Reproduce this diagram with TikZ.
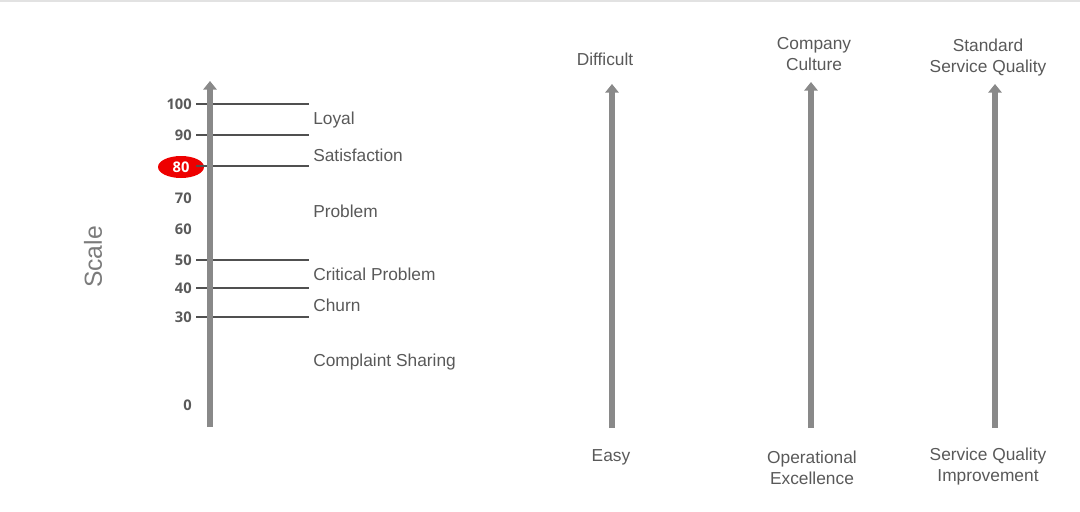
\documentclass[tikz,border=0pt]{standalone}
\usepackage{fontspec}
\setmainfont{Liberation Sans}
\newfontfamily\numfont{Open Sans}
\usetikzlibrary{arrows.meta,shapes.geometric}
\definecolor{axisgray}{HTML}{898989}
\definecolor{tickgray}{HTML}{505050}
\definecolor{txtgray}{HTML}{595959}
\definecolor{numgray}{HTML}{5A5A5A}
\definecolor{redmark}{HTML}{EE0000}
\definecolor{topline}{HTML}{E2E2E2}
\tikzset{
  axisarrow/.style={draw=axisgray, line width=5pt, -{Triangle[width=10pt,length=6.5pt]}},
  tickline/.style={draw=tickgray, line width=1.3pt},
  numlabel/.style={anchor=east, inner sep=0pt, text=numgray, font=\numfont\bfseries\fontsize{11}{12}\selectfont},
  catlabel/.style={anchor=west, inner sep=0pt, text=txtgray, font=\fontsize{13}{15.5}\selectfont},
  endlabel/.style={inner sep=0pt, align=center, text=txtgray, font=\fontsize{13}{15.5}\selectfont},
}
\begin{document}
\begin{tikzpicture}[x=0.75pt,y=-0.75pt]
\useasboundingbox (0,0) rectangle (1080,511);
\draw[topline, line width=1.2pt] (0,1) -- (1080,1);
% red marker
\node[ellipse, fill=redmark, minimum width=34.5pt, minimum height=16.5pt, inner sep=0pt, text=white, font=\numfont\bfseries\fontsize{11}{12}\selectfont] (m80) at (181,167) {80};
% numbers
\node[numlabel] (n100) at (192,104) {100};
\node[numlabel] (n90) at (192,135) {90};
\node[numlabel] (n70) at (192,198) {70};
\node[numlabel] (n60) at (192,229) {60};
\node[numlabel] (n50) at (192,260) {50};
\node[numlabel] (n40) at (192,288) {40};
\node[numlabel] (n30) at (192,317) {30};
\node[numlabel] (n0) at (192,405) {0};
% tick lines
\foreach \y/\n in {104/a,135/b,166/c,260/d,288/e,317/f}{
  \coordinate (tl\n) at (196,\y);
  \coordinate (tr\n) at (309,\y);
  \draw[tickline] (tl\n) -- (tr\n);
}
% category labels
\node[catlabel] (loyal) at (313,120) {Loyal};
\node[catlabel] (sat) at (313,155) {Satisfaction};
\node[catlabel] (prob) at (313,211) {Problem};
\node[catlabel] (crit) at (313,274) {Critical Problem};
\node[catlabel] (churn) at (313,305) {Churn};
\node[catlabel] (compl) at (313,362) {Complaint Sharing};
% scale label
\node[rotate=90, inner sep=0pt, text=axisgray!90!black, font=\fontsize{18.5}{20}\selectfont] (scale) at (93,257) {Scale};
% axes
\coordinate (a1b) at (210,427); \coordinate (a1t) at (210,81);
\coordinate (a2b) at (612,428); \coordinate (a2t) at (612,84);
\coordinate (a3b) at (811,428); \coordinate (a3t) at (811,82);
\coordinate (a4b) at (995,428); \coordinate (a4t) at (995,84);
\draw[axisarrow] (a1b) -- (a1t);
\draw[axisarrow] (a2b) -- (a2t);
\draw[axisarrow] (a3b) -- (a3t);
\draw[axisarrow] (a4b) -- (a4t);
% end labels
\node[endlabel] (diff) at (605,59) {Difficult};
\node[endlabel] (cult) at (814,54) {Company\\Culture};
\node[endlabel] (std) at (988,57.5) {Standard\\Service Quality};
\node[endlabel] (easy) at (611,457) {Easy};
\node[endlabel] (opex) at (812,468) {Operational\\Excellence};
\node[endlabel] (sqi) at (988,466.5) {Service Quality\\Improvement};
\end{tikzpicture}
\end{document}
